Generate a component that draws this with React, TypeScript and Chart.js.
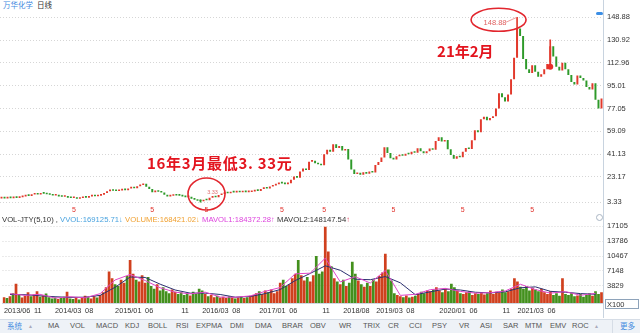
import React, { useEffect, useRef } from 'react';
import { Chart, registerables } from 'chart.js';
Chart.register(...registerables);

// ---- data ----
const firstOpen = 6.3;
const closes = [
  6.5, 6.3, 6.7, 6.5, 6.9, 6.7, 7.3, 7.9, 8.6, 8.3,
  9.4, 9.8, 9.3, 10.3, 10.0, 9.6, 9.1, 8.6, 8.8, 7.9,
  7.6, 7.8, 6.9, 6.6, 6.9, 6.0, 6.6, 7.1, 6.9, 7.9,
  8.2, 8.0, 8.5, 9.2, 10.5, 12.0, 13.0, 12.3, 12.1, 12.6,
  13.0, 12.8, 14.2, 14.6, 14.3, 15.9, 16.8, 17.8, 15.5, 13.8,
  11.2, 11.9, 11.5, 10.9, 9.2, 7.9, 8.4, 8.9, 8.6, 8.5,
  7.9, 7.3, 7.6, 6.1, 5.3, 4.4, 4.0, 5.0, 4.8, 6.9,
  7.5, 7.2, 8.9, 9.8, 10.6, 10.3, 11.4, 11.0, 11.3, 11.1,
  11.5, 11.2, 11.3, 11.8, 12.5, 12.2, 13.8, 14.5, 14.1, 15.6,
  16.5, 17.4, 18.8, 18.1, 17.5, 18.2, 21.0, 23.5, 22.6, 27.5,
  29.8, 28.6, 35.2, 36.0, 34.0, 33.1, 32.4, 41.0, 44.5, 43.0,
  49.0, 46.0, 47.5, 44.0, 45.2, 37.0, 29.0, 25.5, 26.5, 24.9,
  26.8, 25.8, 27.5, 26.6, 32.5, 35.0, 38.5, 46.5, 42.0, 38.0,
  37.0, 39.5, 40.6, 39.8, 41.5, 41.0, 43.0, 42.2, 45.8, 43.5,
  41.9, 43.5, 45.5, 44.6, 51.5, 54.5, 51.0, 52.2, 45.0, 40.5,
  37.5, 39.5, 38.6, 43.0, 46.0, 45.1, 52.0, 60.0, 58.4, 68.5,
  70.5, 67.8, 69.5, 71.0, 77.0, 89.0, 86.0, 82.5, 88.0, 100.0,
  117.0, 140.0, 134.0, 116.0, 108.0, 105.0, 111.0, 106.0, 102.0, 104.0,
  108.0, 112.0, 126.0, 118.0, 110.0, 107.0, 113.0, 108.0, 103.5, 98.0,
  96.0, 103.0, 101.0, 99.0, 94.0, 92.0, 97.0, 84.0, 77.0, 85.0,
];
const volumes = [
  1300, 1100, 1500, 2200, 4300, 1800, 1200, 1600, 2400, 1500,
  1900, 2600, 1400, 1700, 2100, 1300, 1000, 1200, 900, 1100,
  1400, 2500, 1000, 900, 1200, 800, 1100, 1600, 1300, 1000,
  1500, 1200, 1800, 2400,
  3500, 7000, 5500, 4200, 3800, 5200, 4500, 6000, 9600, 6500, 5200, 4800, 6200,
  4500, 5800, 3800, 3200, 4200, 2800, 3500, 2600, 2200, 3000, 2500, 2000, 2400, 1800, 2200, 1700, 2500, 2000, 3200,
  2800, 2000, 1500, 1800, 1300, 1600, 1200, 1400, 1100, 1500, 1300, 1000, 1200, 1400, 1100, 1300, 1600,
  1800, 2200, 2600, 2000, 2800, 2400, 3000, 2200, 2600,
  4500, 5200, 3800, 4200, 5500, 6500, 9600, 6200, 5000, 5800, 4800, 6200, 10500, 6500, 7000,
  17000, 11500, 8200,
  5500, 4800, 4200, 5200, 3800, 4500, 9200, 6500, 5000, 4200, 3600, 4500, 3800, 5200, 4800, 6000, 6800,
  11000, 7500, 5000,
  2200, 1800, 1500, 1300, 1700, 1200, 1400, 1600, 2000, 2500, 2200, 2800, 2600, 3000, 3500, 2800, 2400, 3200, 2600,
  4300, 3500, 2800, 2200, 2000, 2400, 2600, 1800, 2200, 2000, 2400, 1900, 2200, 2800, 2000, 2500, 2300, 3000, 2400, 2600, 3200,
  5500, 4800, 3600, 3200, 3800, 2800, 3400, 3000, 2600, 3200,
  2400, 2000, 2600, 1800, 2200, 1600, 5500, 2000, 1800, 2200, 1500, 1700, 2000, 1400, 1800, 2200, 1600, 2600, 2000, 2400,
];
// moving-average lines of the volume panel, read every 5th bar
const mavol1 = [
  2080, 1700, 1940, 1100, 1400, 1160, 2080, 5140, 6360, 5020,
  3400, 2420, 2040, 2420, 1320, 1280, 1580, 2600, 3460, 6500,
  6660, 10000, 4700, 5860, 4460, 7260, 1700, 1940, 2980, 3260,
  2580, 2200, 2300, 2700, 4180, 3000, 2200, 2540, 1720, 2160,
];
const mavol2 = [
  1900, 1850, 1600, 1400, 1250, 1300, 1700, 3500, 5800, 5700,
  4200, 2900, 2200, 2200, 1900, 1300, 1450, 2100, 3000, 5000,
  6600, 8300, 7300, 5300, 5200, 5900, 4500, 1850, 2500, 3100,
  2900, 2400, 2250, 2500, 3400, 3600, 2600, 2400, 2100, 1950,
];
const wickIdx = [66, 171, 182];
const wickLow = [3.33, 118, 114];
const wickHigh = [5.2, 148.88, 131];
const priceTicks = [3.33, 23.17, 41.13, 59.09, 77.05, 95.01, 112.96, 130.92, 148.88];
const volTicks = [3829, 7148, 10467, 13786, 17105];
const dateLabels = ['2013/06', '11', '2014/03', '08', '2015/01', '06', '11', '2016/03', '08', '2017/01', '06', '11', '2018/08', '2019/03', '08', '2020/01', '06', '11', '2021/03', '06'];
const dateIdx = [0, 10, 17, 27, 37, 47, 59, 66, 76, 85, 95, 106, 113, 124, 134, 145, 155, 166, 171, 181];
const markerIdx = [24, 50, 68, 93, 107, 130, 153, 176];
const peakIdx = 171;
const peakValue = 148.88;
const lowIdx = 66;
const lowValue = 3.33;
const dotIdx = 182;
const dotValue = 110;
const menuItems = ['MA', 'VOL', 'MACD', 'KDJ', 'BOLL', 'RSI', 'EXPMA', 'DMI', 'DMA', 'BRAR', 'OBV', 'WR', 'TRIX', 'CR', 'CCI', 'PSY', 'VR', 'ASI', 'SAR', 'MTM', 'EMV', 'ROC'];
const menuX = [48, 70, 96, 125, 148, 176, 196, 230, 255, 282, 310, 339, 363, 388, 409, 432, 459, 480, 503, 525, 550, 572];

const UP = '#e2392c';
const DOWN = '#2e9a2a';
const VUP = '#d0401e';
const VDOWN = '#43901d';
const FONT = '"Liberation Sans", Arial, sans-serif';
const CJK = '"Noto Sans CJK SC", sans-serif';

export default function App() {
  const priceRef = useRef<HTMLCanvasElement>(null);
  const volRef = useRef<HTMLCanvasElement>(null);

  useEffect(() => {
    const labels = closes.map((_, i) => i);
    const opens = closes.map((c, i) => (i === 0 ? firstOpen : closes[i - 1]));
    const colors = closes.map((c, i) => (c >= opens[i] ? UP : DOWN));
    const vcolors = closes.map((c, i) => (c >= opens[i] ? VUP : VDOWN));
    const wicks: any[] = closes.map(() => null);
    wickIdx.forEach((k, j) => { wicks[k] = [wickLow[j], wickHigh[j]]; });
    const sparse = (arr: number[]) => {
      const out: any[] = closes.map(() => null);
      arr.forEach((v, j) => { out[j * 5 + 2] = v; });
      return out;
    };

    const annot = {
      id: 'annot',
      afterDatasetsDraw(chart: any) {
        const { ctx, chartArea } = chart;
        const x = chart.scales.x;
        const y = chart.scales.y;
        ctx.save();
        ctx.fillStyle = '#e0302a';
        ctx.font = `7px ${FONT}`;
        ctx.textAlign = 'center';
        ctx.textBaseline = 'middle';
        markerIdx.forEach((i) => ctx.fillText('5', x.getPixelForValue(i), chartArea.bottom + 2));
        const px = x.getPixelForValue(peakIdx);
        const py = y.getPixelForValue(peakValue);
        ctx.strokeStyle = '#e2262e';
        ctx.lineWidth = 1.6;
        ctx.beginPath();
        ctx.ellipse(px - 18.5, py + 2.6, 27.5, 11.5, 0, 0, Math.PI * 2);
        ctx.stroke();
        ctx.strokeStyle = '#e88080';
        ctx.lineWidth = 0.8;
        ctx.beginPath();
        ctx.moveTo(px - 11, py + 5);
        ctx.lineTo(px, py);
        ctx.stroke();
        ctx.fillStyle = '#e06060';
        ctx.font = `7.5px ${FONT}`;
        ctx.fillText(peakValue.toFixed(2), px - 22, py + 6);
        const lx = x.getPixelForValue(lowIdx);
        const ly = y.getPixelForValue(lowValue);
        ctx.strokeStyle = '#e2262e';
        ctx.lineWidth = 1.6;
        ctx.beginPath();
        ctx.ellipse(lx + 6, ly - 8.2, 18.5, 16, 0, 0, Math.PI * 2);
        ctx.stroke();
        ctx.fillStyle = '#e07070';
        ctx.font = `5.5px ${FONT}`;
        ctx.fillText(lowValue.toFixed(2), lx + 12, ly - 9.5);
        ctx.fillStyle = '#e8302a';
        ctx.beginPath();
        ctx.arc(x.getPixelForValue(dotIdx), y.getPixelForValue(dotValue), 3, 0, Math.PI * 2);
        ctx.fill();
        ctx.fillStyle = '#e3141e';
        ctx.font = `bold 15px ${CJK}`;
        ctx.textAlign = 'left';
        ctx.fillText('21年2月', px - 80, y.getPixelForValue(122));
        (ctx as any).letterSpacing = '0.7px';
        ctx.fillText('16年3月最低3. 33元', lx - 53.5, y.getPixelForValue(34));
        ctx.restore();
      },
    };

    const price = new Chart(priceRef.current!, {
      type: 'bar',
      data: {
        labels,
        datasets: [
          {
            data: wicks,
            backgroundColor: colors,
            barThickness: 1,
            grouped: false,
            order: 2,
          } as any,
          {
            data: closes.map((c, i) => [opens[i], c]),
            backgroundColor: colors,
            barPercentage: 0.65,
            categoryPercentage: 1,
            minBarLength: 1.6,
            grouped: false,
            order: 1,
          } as any,
        ],
      },
      options: {
        responsive: false,
        animation: false,
        layout: { padding: { top: 2, bottom: 7, left: 0, right: 0 } },
        plugins: { legend: { display: false }, tooltip: { enabled: false } },
        scales: {
          x: { display: false },
          y: {
            position: 'right',
            min: -1.63,
            max: 151.8,
            afterBuildTicks: (s: any) => { s.ticks = priceTicks.map((v) => ({ value: v })); },
            afterFit: (s: any) => { s.width = 37; },
            ticks: {
              callback: (v: any) => Number(v).toFixed(2),
              color: '#333',
              font: { size: 7.5, family: FONT },
              padding: 4,
            },
            grid: { color: '#d6d6d6', drawTicks: false },
            border: { display: false, dash: [1, 2] },
          },
        },
      },
      plugins: [annot],
    } as any);

    const vol = new Chart(volRef.current!, {
      type: 'bar',
      data: {
        labels,
        datasets: [
          {
            type: 'line',
            data: sparse(mavol1),
            borderColor: '#e046c8',
            borderWidth: 1,
            pointRadius: 0,
            spanGaps: true,
            order: 0,
          } as any,
          {
            type: 'line',
            data: sparse(mavol2),
            borderColor: '#2c3170',
            borderWidth: 1,
            pointRadius: 0,
            spanGaps: true,
            order: 0,
          } as any,
          {
            data: volumes,
            backgroundColor: vcolors,
            barPercentage: 0.9,
            categoryPercentage: 1,
            order: 1,
          },
        ],
      },
      options: {
        responsive: false,
        animation: false,
        layout: { padding: { top: 6, bottom: 0, left: 0, right: 0 } },
        plugins: { legend: { display: false }, tooltip: { enabled: false } },
        scales: {
          x: {
            afterBuildTicks: (s: any) => { s.ticks = dateIdx.map((v) => ({ value: v })); },
            afterFit: (s: any) => { s.height = 19; },
            ticks: {
              autoSkip: false,
              maxRotation: 0,
              align: 'start',
              padding: 4,
              color: '#333',
              font: { size: 7.3, family: FONT },
              callback: (v: any) => { const k = dateIdx.indexOf(Number(v)); return k >= 0 ? dateLabels[k] : ''; },
            },
            grid: { display: false, drawTicks: false },
            border: { display: true, color: '#cfd8e2' },
          },
          y: {
            position: 'right',
            min: 0,
            max: 18403,
            afterBuildTicks: (s: any) => { s.ticks = volTicks.map((v) => ({ value: v })); },
            afterFit: (s: any) => { s.width = 37; },
            ticks: {
              color: '#333',
              font: { size: 7.5, family: FONT },
              padding: 4,
              callback: (v: any) => String(v),
            },
            grid: { color: '#d6d6d6', drawTicks: false },
            border: { display: false, dash: [1, 2] },
          },
        },
      },
    } as any);

    return () => { price.destroy(); vol.destroy(); };
  }, []);

  const abs = (l: number, t: number, extra: React.CSSProperties = {}): React.CSSProperties => ({ position: 'absolute', left: l, top: t, whiteSpace: 'nowrap', ...extra });

  return (
    <div style={{ position: 'fixed', left: 0, top: 0, width: 640, height: 333, background: '#fff', overflow: 'hidden', fontFamily: FONT }}>
      <span style={abs(3, 0, { fontSize: 7.5, lineHeight: '10px', color: '#3f8ae0', fontFamily: CJK })}>万华化学</span>
      <span style={abs(37, 0, { fontSize: 7.5, lineHeight: '10px', color: '#333', fontFamily: CJK })}>日线</span>
      <div style={abs(0, 5)}><canvas ref={priceRef} width={640} height={212} /></div>
      <div style={abs(0, 212)}><canvas ref={volRef} width={640} height={110} /></div>
      <div style={abs(2, 215, { fontSize: 7.7, lineHeight: '10px' })}>
        <span style={{ color: '#333' }}>VOL-JTY(5,10) , </span>
        <span style={{ color: '#4aa3df' }}>VVOL:169125.71↓ </span>
        <span style={{ color: '#f0a030' }}>VOLUME:168421.02↓ </span>
        <span style={{ color: '#dd44dd' }}>MAVOL1:184372.28↑ </span>
        <span style={{ color: '#333' }}>MAVOL2:148147.54</span><span style={{ color: '#e04060' }}>↑</span>
      </div>
      <div style={abs(603, 0, { width: 1, height: 318, background: '#c8d3df' })} />
      <div style={abs(596, 12, { width: 7, height: 3, borderRadius: 1.5, background: '#3a8ee6' })} />
      <div style={abs(596, 214, { width: 5, height: 5, borderRadius: '50%', border: '1.2px solid #a9b4c2' })} />
      <div style={abs(605, 299, { width: 34, height: 10, border: '1px solid #8ea3ba', fontSize: 7.5, lineHeight: '10px', color: '#333', paddingLeft: 1, boxSizing: 'border-box' })}>X100</div>
      <div style={abs(0, 319, { width: 640, height: 14, background: '#eef2f7', borderTop: '1px solid #d6dde6', boxSizing: 'border-box' })} />
      <span style={abs(7, 319, { fontSize: 7.5, lineHeight: '14px', color: '#3f8ae0', fontFamily: CJK })}>系统</span>
      <span style={abs(28, 319, { fontSize: 5, lineHeight: '14px', color: '#aab' })}>▲</span>
      {menuItems.map((m, i) => (
        <span key={m} style={abs(menuX[i], 319, { fontSize: 7.5, lineHeight: '14px', color: '#555' })}>{m}</span>
      ))}
      <span style={abs(594, 319, { fontSize: 5, lineHeight: '14px', color: '#aab' })}>▲</span>
      <div style={abs(612, 320, { width: 1, height: 13, background: '#d6dde6' })} />
      <span style={abs(620, 319, { fontSize: 7.5, lineHeight: '14px', color: '#3f8ae0', fontFamily: CJK })}>更多</span>
    </div>
  );
}
